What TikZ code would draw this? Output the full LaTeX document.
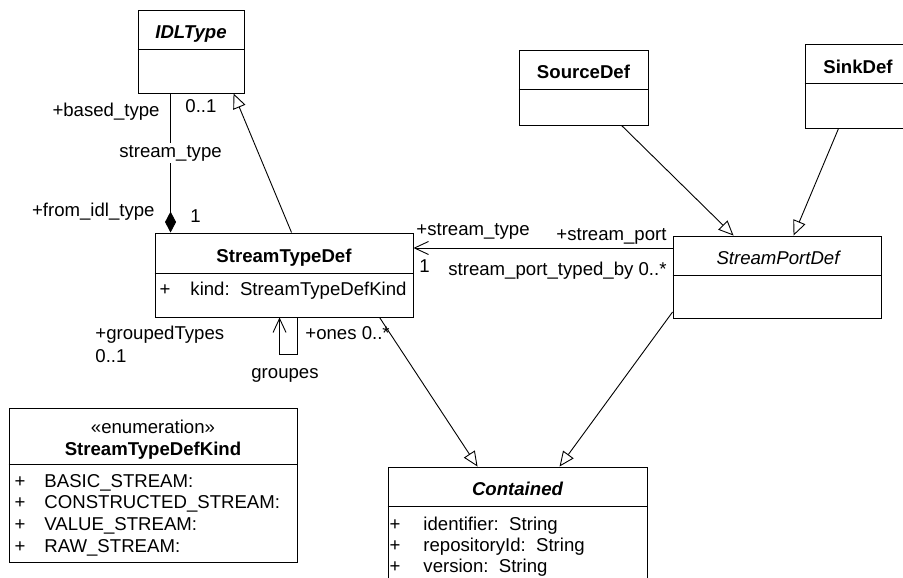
\documentclass[tikz,border=0pt]{standalone}
\usepackage{fontspec}
\setmainfont{Liberation Sans}
\usetikzlibrary{arrows.meta,calc}
\begin{document}
\begin{tikzpicture}[x=1pt,y=-1pt,line width=0.9pt,
  box/.style={draw,inner sep=0pt,rectangle},
  txt/.style={inner sep=0pt,anchor=base,font=\fontsize{18.6}{22}\selectfont},
  ltxt/.style={txt,anchor=base west},
  rtxt/.style={txt,anchor=base east},
  gen/.style={-{Triangle[open,length=15pt,width=13pt,fill=white]}},
  assoc/.style={-{Straight Barb[length=14pt,width=13pt]}},
  comp/.style={-{Diamond[length=21pt,width=11pt]}}]
\clip (0,0) rectangle (903,578);
\fill[white] (0,0) rectangle (903,578);

% classes
\node[box,minimum width=106pt,minimum height=83pt] (idl) at (191,51.5) {};
\draw (idl.west |- 0,49) -- (idl.east |- 0,49);
\node[txt] (idln) at (191,39) {\bfseries\itshape IDLType};

\node[box,minimum width=258pt,minimum height=84pt] (std) at (284,275) {};
\draw (std.west |- 0,273) -- (std.east |- 0,273);
\node[txt] (stdn) at (284,262) {\bfseries StreamTypeDef};
\node[txt] (stdp) at (165,295) {+};
\node[ltxt] (stda) at (190,295) {kind:\ \ StreamTypeDefKind};

\node[box,minimum width=129pt,minimum height=75pt] (src) at (583.5,87.5) {};
\draw (src.west |- 0,89) -- (src.east |- 0,89);
\node[txt] (srcn) at (583.5,78) {\bfseries SourceDef};

\node[box,minimum width=106pt,minimum height=84pt] (sink) at (858,86) {};
\draw (sink.west |- 0,83) -- (sink.east |- 0,83);
\node[txt] (sinkn) at (858,74) {\bfseries SinkDef};

\node[box,minimum width=208pt,minimum height=82pt] (spd) at (777,277) {};
\draw (spd.west |- 0,275) -- (spd.east |- 0,275);
\node[txt] (spdn) at (778,264) {\itshape StreamPortDef};

\node[box,minimum width=288pt,minimum height=154pt] (enum) at (153,485) {};
\draw (enum.west |- 0,464) -- (enum.east |- 0,464);
\node[txt] (enums) at (153,433) {«enumeration»};
\node[txt] (enumn) at (153,455) {\bfseries StreamTypeDefKind};
\node[txt] (e1p) at (20,487) {+};
\node[ltxt] (e1) at (44,487) {BASIC\_STREAM:};
\node[txt] (e2p) at (20,508) {+};
\node[ltxt] (e2) at (44,508) {CONSTRUCTED\_STREAM:};
\node[txt] (e3p) at (20,530) {+};
\node[ltxt] (e3) at (44,530) {VALUE\_STREAM:};
\node[txt] (e4p) at (20,552) {+};
\node[ltxt] (e4) at (44,552) {RAW\_STREAM:};

\node[box,minimum width=259pt,minimum height=128pt] (cont) at (517.5,531) {};
\draw (cont.west |- 0,506) -- (cont.east |- 0,506);
\node[txt] (contn) at (517.5,495) {\bfseries\itshape Contained};
\node[txt] (c1p) at (395,530) {+};
\node[ltxt] (c1) at (423,530) {identifier:\ \ String};
\node[txt] (c2p) at (395,551) {+};
\node[ltxt] (c2) at (423,551) {repositoryId:\ \ String};
\node[txt] (c3p) at (395,572) {+};
\node[ltxt] (c3) at (423,572) {version:\ \ String};

% connectors
\draw[gen] ($(std.north west)+(137,0)$) -- ($(idl.south west)+(96,0)$);
\draw[comp] ($(idl.south west)+(33,0)$) --
  node[pos=0.43,txt,anchor=center,fill=white,inner sep=2pt] (stl) {stream\_type}
  ($(std.north west)+(16,0)$);
\draw[assoc] (spd.west |- 0,248) -- (std.east |- 0,248);
\draw[gen] ($(src.south west)+(103,0)$) -- ($(spd.north west)+(61,0)$);
\draw[gen] ($(sink.south west)+(34,0)$) -- ($(spd.north west)+(121,0)$);
\draw[gen] ($(std.south west)+(225,0)$) -- ($(cont.north west)+(90,0)$);
\draw[gen] (spd.west |- 0,312) -- ($(cont.north west)+(172,0)$);
\draw[assoc] ($(std.south west)+(143,0)$) -- ++(0,37) -- ++(-18,0) -- ($(std.south west)+(125,0)$);

% labels
\node[rtxt] (l1) at (160,117) {+based\_type};
\node[ltxt] (l2) at (185,113) {0..1};
\node[rtxt] (l3) at (155,216) {+from\_idl\_type};
\node[ltxt] (l4) at (190,222) {1};
\node[ltxt] (l5) at (416,235) {+stream\_type};
\node[rtxt] (l6) at (667,240) {+stream\_port};
\node[ltxt] (l7) at (419,272) {1};
\node[rtxt] (l8) at (667,275) {stream\_port\_typed\_by 0..*};
\node[ltxt] (l9) at (95,339) {+groupedTypes};
\node[ltxt] (l10) at (95,362) {0..1};
\node[ltxt] (l11) at (305,339) {+ones 0..*};
\node[txt] (l12) at (285,378) {groupes};
\end{tikzpicture}
\end{document}
